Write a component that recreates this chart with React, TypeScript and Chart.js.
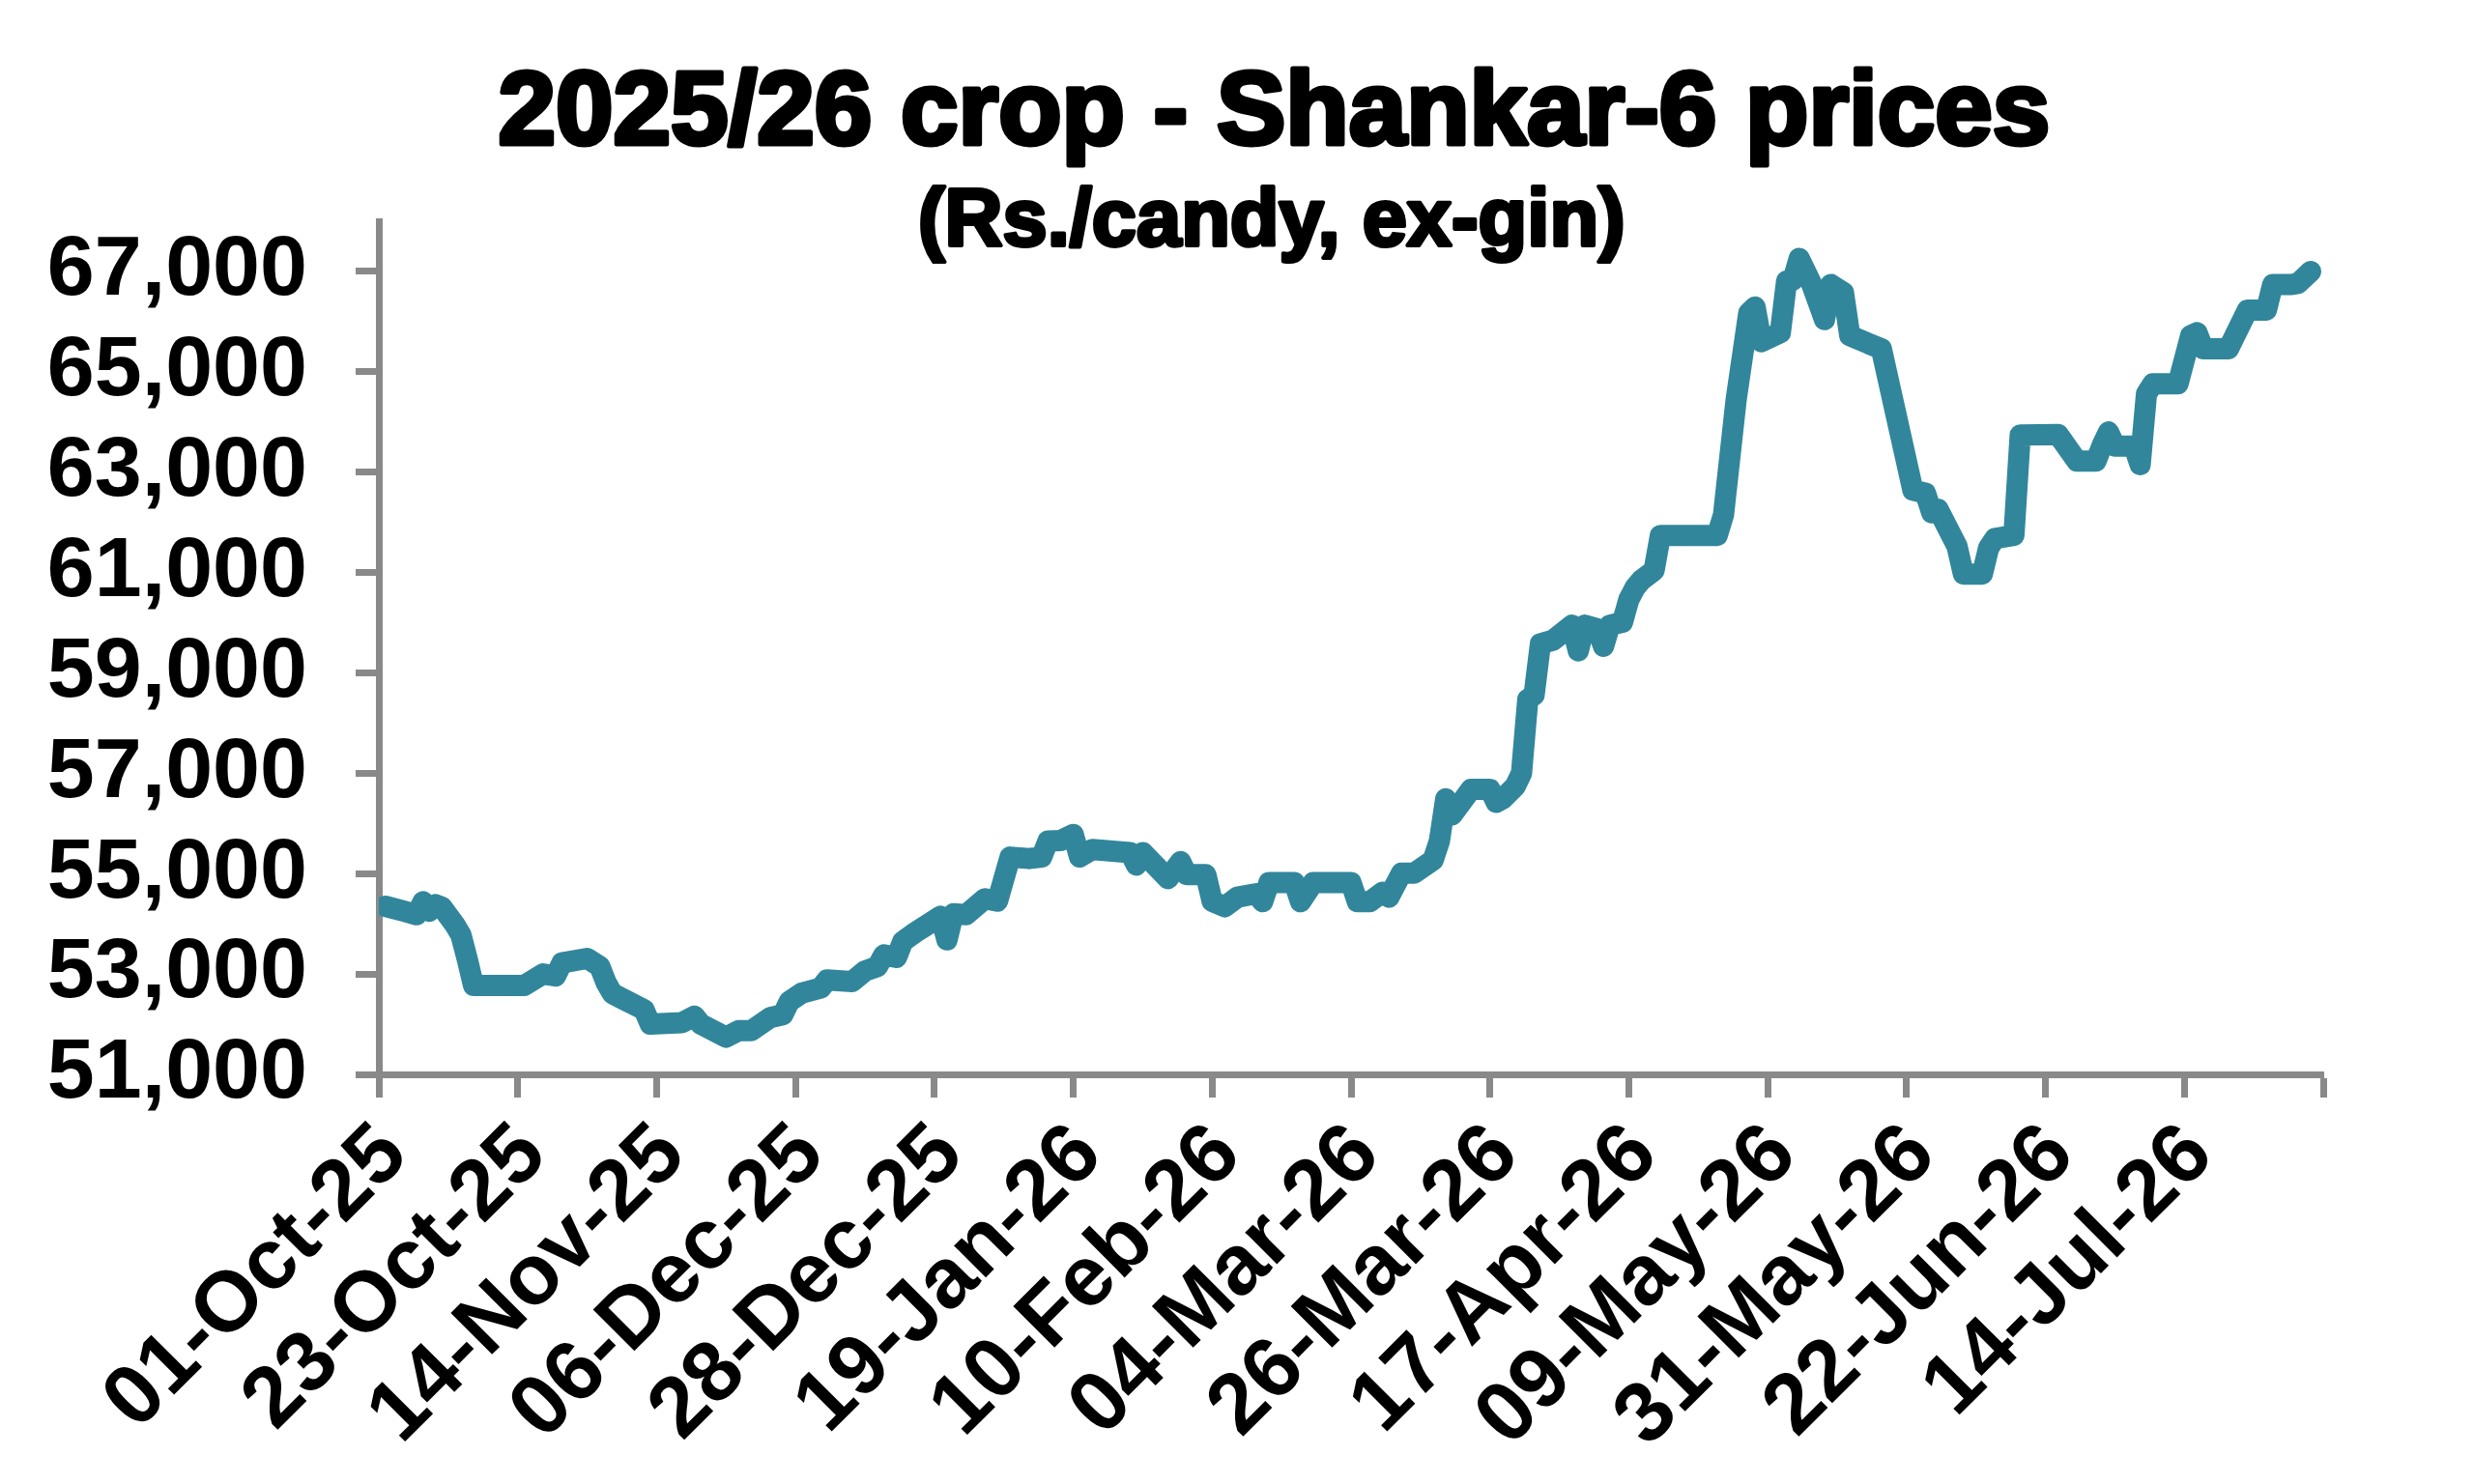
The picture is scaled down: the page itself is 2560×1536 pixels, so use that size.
import { useEffect, useRef } from "react";
import { Chart, registerables } from "chart.js";

Chart.register(...registerables);

// days counted from 01-Oct-25
const dayOffsets = [
  1, 4, 6, 7, 8, 9, 10, 12, 13, 14, 15, 23, 26, 28, 29, 33, 35, 36, 37, 39,
  42, 43, 48, 50, 51, 55, 57, 59, 62, 64, 65, 67, 70, 71, 75, 77, 79, 80, 82, 83,
  85, 89, 90, 91, 93, 96, 98, 100, 103, 105, 106, 108, 110, 111, 113, 119, 120, 121, 125, 127,
  128, 131, 132, 134, 136, 139, 140, 141, 145, 146, 148, 154, 155, 157, 159, 160, 162, 164, 167, 168,
  169, 170, 173, 176, 177, 178, 180, 181, 182, 183, 184, 186, 189, 190, 191, 193, 194, 195, 197, 198,
  199, 200, 202, 203, 212, 213, 215, 217, 218, 219, 222, 223, 224, 225, 227, 229, 230, 232, 233, 236,
  238, 243, 245, 246, 247, 250, 251, 254, 255, 256, 259, 260, 266, 269, 272, 273, 274, 275, 278, 279,
  280, 281, 285, 287, 288, 289, 293, 296, 299, 300, 303, 304, 306,
];

const prices = [
  54350, 54250, 54180, 54440, 54250, 54380, 54330, 53990, 53780, 53300, 52770, 52770, 53000, 52960, 53220, 53310, 53150, 52830, 52610, 52480,
  52290, 52000, 52030, 52160, 52000, 51740, 51870, 51870, 52130, 52190, 52450, 52620, 52720, 52880, 52850, 53060, 53150, 53380, 53330, 53650,
  53830, 54150, 53680, 54200, 54180, 54500, 54450, 55330, 55300, 55330, 55650, 55660, 55780, 55330, 55480, 55420, 55170, 55420, 54900, 55240,
  54980, 54980, 54450, 54340, 54530, 54600, 54440, 54820, 54820, 54440, 54820, 54820, 54440, 54440, 54630, 54530, 55010, 55010, 55270, 55650,
  56490, 56170, 56680, 56680, 56420, 56490, 56740, 57000, 58470, 58560, 59580, 59650, 59950, 59440, 59950, 59880, 59530, 59950, 60010, 60460,
  60700, 60850, 61040, 61740, 61740, 62150, 64440, 66170, 66290, 65600, 65780, 66810, 66830, 67260, 66740, 66040, 66740, 66580, 65720, 65560,
  65460, 62640, 62580, 62190, 62260, 61520, 60970, 60970, 61490, 61680, 61740, 63740, 63750, 63220, 63220, 63540, 63800, 63520, 63520, 63150,
  64560, 64760, 64760, 65720, 65780, 65460, 65460, 66230, 66230, 66740, 66740, 66760, 67000,
];

const tickDays = [0, 22, 44, 66, 88, 110, 132, 154, 176, 198, 220, 242, 264, 286, 308];
const tickLabels = [
  "01-Oct-25", "23-Oct-25", "14-Nov-25", "06-Dec-25", "28-Dec-25", "19-Jan-26", "10-Feb-26",
  "04-Mar-26", "26-Mar-26", "17-Apr-26", "09-May-26", "31-May-26", "22-Jun-26", "14-Jul-26",
];
const priceTicks = [51000, 53000, 55000, 57000, 59000, 61000, 63000, 65000, 67000];

const TITLE = "2025/26 crop - Shankar-6 prices";
const SUBTITLE = "(Rs./candy, ex-gin)";
const FONT = "'Liberation Sans', Arial, sans-serif";
const AXIS_GREY = "#898989";

// heavy headings, drawn by hand so they can sit off-centre like the original
const titlePlugin = {
  id: "headings",
  afterDraw(chart: any) {
    const { ctx, width } = chart;
    ctx.save();
    ctx.fillStyle = "#000";
    ctx.strokeStyle = "#000";
    ctx.lineJoin = "round";
    ctx.textAlign = "center";
    ctx.textBaseline = "alphabetic";
    ctx.font = `bold 107px ${FONT}`;
    ctx.lineWidth = 5;
    ctx.strokeText(TITLE, width * 0.515, 149);
    ctx.fillText(TITLE, width * 0.515, 149);
    ctx.font = `bold 83px ${FONT}`;
    ctx.lineWidth = 4;
    ctx.strokeText(SUBTITLE, width * 0.514, 254);
    ctx.fillText(SUBTITLE, width * 0.514, 254);
    ctx.restore();
  },
};

export default function App() {
  const canvasRef = useRef<HTMLCanvasElement>(null);

  useEffect(() => {
    if (!canvasRef.current) return;
    const chart = new Chart(canvasRef.current, {
      type: "line",
      data: {
        datasets: [
          {
            data: dayOffsets.map((d, i) => ({ x: d, y: prices[i] })),
            borderColor: "#31869B",
            borderWidth: 22,
            borderCapStyle: "round",
            borderJoinStyle: "round",
            pointRadius: 0,
            tension: 0,
            fill: false,
          },
        ],
      },
      plugins: [titlePlugin],
      options: {
        responsive: true,
        maintainAspectRatio: false,
        animation: false,
        layout: { padding: { top: 229, right: 156, left: 0, bottom: 0 } },
        plugins: { legend: { display: false }, tooltip: { enabled: false }, title: { display: false } },
        scales: {
          x: {
            type: "linear",
            min: 0,
            max: 308,
            afterBuildTicks: (s: any) => {
              s.ticks = tickDays.map((v) => ({ value: v }));
            },
            afterFit: (s: any) => {
              s.height = 424;
            },
            ticks: {
              autoSkip: false,
              minRotation: 45,
              maxRotation: 45,
              padding: 8,
              labelOffset: 16,
              color: "#000",
              font: { family: FONT, size: 88, weight: "bold" },
              callback: (_v: any, i: number) => tickLabels[i] ?? "",
            },
            grid: {
              drawOnChartArea: false,
              drawTicks: true,
              tickLength: 24,
              tickWidth: 7,
              tickColor: AXIS_GREY,
            },
            border: { display: true, color: AXIS_GREY, width: 7 },
          },
          y: {
            min: 51000,
            max: 68000,
            afterBuildTicks: (s: any) => {
              s.ticks = priceTicks.map((v) => ({ value: v }));
            },
            afterFit: (s: any) => {
              s.width = 392;
            },
            ticks: {
              padding: 50,
              color: "#000",
              font: { family: FONT, size: 88, weight: "bold" },
              callback: (v: any) => Number(v).toLocaleString("en-US"),
            },
            grid: {
              drawOnChartArea: false,
              drawTicks: true,
              tickLength: 24,
              tickWidth: 7,
              tickColor: AXIS_GREY,
            },
            border: { display: true, color: AXIS_GREY, width: 7 },
          },
        },
      },
    });
    return () => chart.destroy();
  }, []);

  return (
    <div style={{ position: "fixed", inset: 0, background: "#fff" }}>
      <canvas ref={canvasRef} />
    </div>
  );
}
